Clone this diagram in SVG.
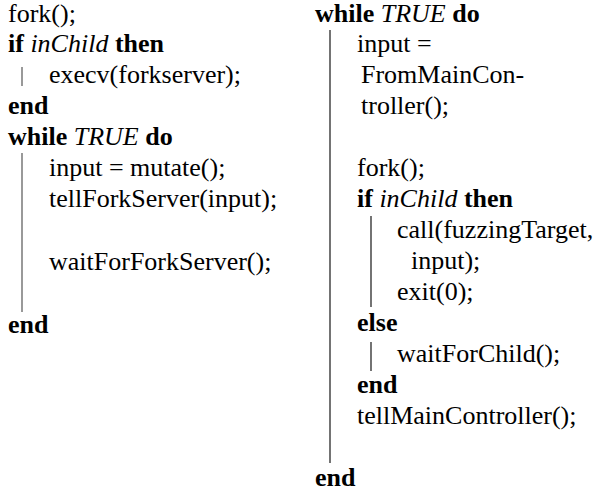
<svg xmlns="http://www.w3.org/2000/svg" width="597" height="491" viewBox="0 0 597 491" font-family="'Liberation Serif', 'Times New Roman', serif" font-size="26">
  <style>
    text { font-family: 'Liberation Serif', 'Times New Roman', serif; font-size: 26px; fill: #000; }
    .kw { font-weight: bold; }
    .it { font-style: italic; }
    .barL { stroke: #6e6e6e; stroke-width: 1.4; fill: none; }
    .barR { stroke: #000; stroke-width: 1.1; fill: none; }
  </style>
  <rect width="597" height="491" fill="#fff"/>

  <!-- Left column: fork server setup and main loop -->
  <g id="left-code">
    <text x="8" y="22">fork();</text>
    <text x="8" y="52"><tspan class="kw">if</tspan> <tspan class="it">inChild</tspan> <tspan class="kw">then</tspan></text>
    <text x="49" y="83">execv(forkserver);</text>
    <text x="8" y="114" class="kw">end</text>
    <text x="8" y="145"><tspan class="kw">while</tspan> <tspan class="it">TRUE</tspan> <tspan class="kw">do</tspan></text>
    <text x="49" y="176">input = mutate();</text>
    <text x="49" y="207">tellForkServer(input);</text>
    <text x="49" y="270">waitForForkServer();</text>
    <text x="8" y="333" class="kw">end</text>
  </g>

  <!-- Right column: fork server loop -->
  <g id="right-code">
    <text x="315" y="22"><tspan class="kw">while</tspan> <tspan class="it">TRUE</tspan> <tspan class="kw">do</tspan></text>
    <text x="357" y="52">input =</text>
    <text x="361" y="83">FromMainCon-</text>
    <text x="361" y="114">troller();</text>
    <text x="357" y="176">fork();</text>
    <text x="357" y="207"><tspan class="kw">if</tspan> <tspan class="it">inChild</tspan> <tspan class="kw">then</tspan></text>
    <text x="397" y="238">call(fuzzingTarget,</text>
    <text x="411" y="269">input);</text>
    <text x="397" y="300">exit(0);</text>
    <text x="357" y="331" class="kw">else</text>
    <text x="397" y="362">waitForChild();</text>
    <text x="357" y="393" class="kw">end</text>
    <text x="357" y="424">tellMainController();</text>
    <text x="315" y="486" class="kw">end</text>
  </g>

  <!-- Block rules marking the bodies of if/while/else -->
  <g id="block-rules">
    <line class="barL" x1="22" y1="67" x2="22" y2="86"/>
    <line class="barL" x1="22" y1="153" x2="22" y2="312"/>
    <line class="barR" x1="330" y1="30" x2="330" y2="463"/>
    <line class="barR" x1="371" y1="216" x2="371" y2="307"/>
    <line class="barR" x1="371" y1="342" x2="371" y2="371"/>
  </g>
</svg>
